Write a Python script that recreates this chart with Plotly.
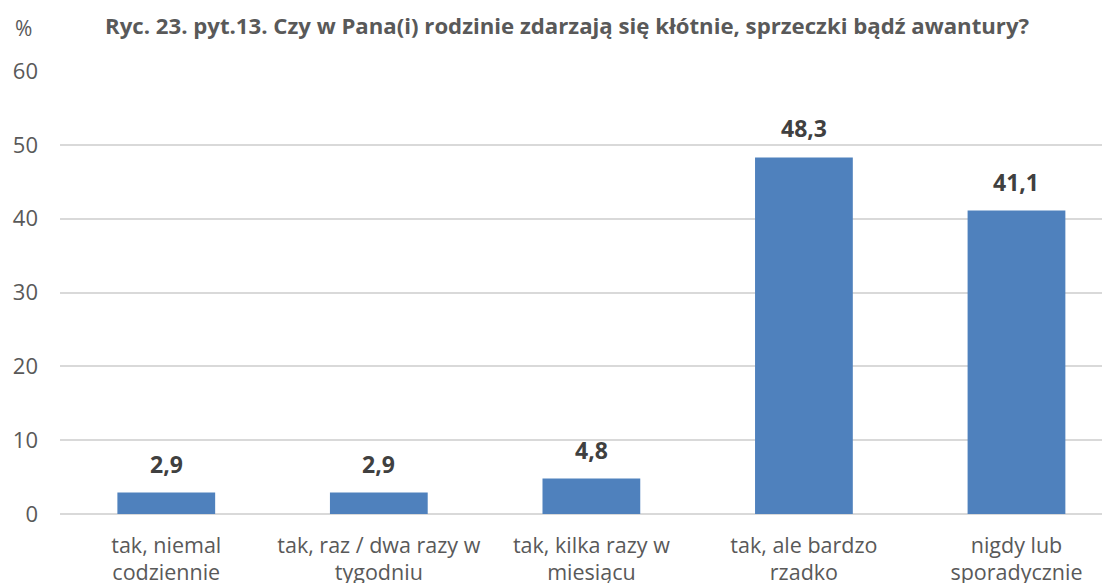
import plotly.graph_objects as go

categories = ["tak, niemal<br>codziennie", "tak, raz / dwa razy w<br>tygodniu",
              "tak, kilka razy w<br>miesiącu", "tak, ale bardzo<br>rzadko",
              "nigdy lub<br>sporadycznie"]
values = [2.9, 2.9, 4.8, 48.3, 41.1]
labels = ["2,9", "2,9", "4,8", "48,3", "41,1"]
y_ticks = [0, 10, 20, 30, 40, 50, 60]

FONT = "Open Sans, sans-serif"

fig = go.Figure()
x_pos = list(range(len(categories)))
fig.add_trace(go.Bar(
    x=x_pos, y=values, width=0.46,
    marker=dict(color="#4F81BD", line=dict(width=0)),
))

annotations = [
    dict(x=xi, y=v, xref="x", yref="y", text=f"<b>{lab}</b>", showarrow=False,
         xanchor="center", yanchor="middle", yshift=29,
         font=dict(family=FONT, size=23, color="#404040"))
    for xi, v, lab in zip(x_pos, values, labels)
]
annotations += [
    dict(text="%", xref="paper", yref="paper", x=-0.0343, y=1.098,
         xanchor="center", yanchor="middle", showarrow=False,
         font=dict(family=FONT, size=21, color="#595959")),
    dict(text="<b>Ryc. 23. pyt.13. Czy w Pana(i) rodzinie zdarzają się kłótnie, sprzeczki bądź awantury?</b>",
         xref="paper", yref="paper", x=0.4838, y=1.1016,
         xanchor="center", yanchor="middle", showarrow=False,
         font=dict(family=FONT, size=22.2, color="#595959")),
]

fig.update_layout(
    width=1102, height=575,
    margin=dict(l=52, r=0, t=63, b=69, autoexpand=False),
    paper_bgcolor="white", plot_bgcolor="white",
    showlegend=False,
    xaxis=dict(
        range=[-0.5, 4.44], tickmode="array",
        tickvals=x_pos, ticktext=categories, automargin=False,
        tickfont=dict(family=FONT, size=21.5, color="#595959"),
        showgrid=False, zeroline=False, showline=False, ticks="",
        ticklabelstandoff=16,
    ),
    yaxis=dict(
        range=[0, 60], tickvals=y_ticks, automargin=False,
        tickfont=dict(family=FONT, size=22, color="#595959"),
        showgrid=True, gridcolor="#D9D9D9", gridwidth=1.5,
        zeroline=True, zerolinecolor="#D9D9D9", zerolinewidth=1.5,
        showline=False, ticks="", ticklabelstandoff=21,
    ),
    annotations=annotations,
)

fig.write_html("out.html")
